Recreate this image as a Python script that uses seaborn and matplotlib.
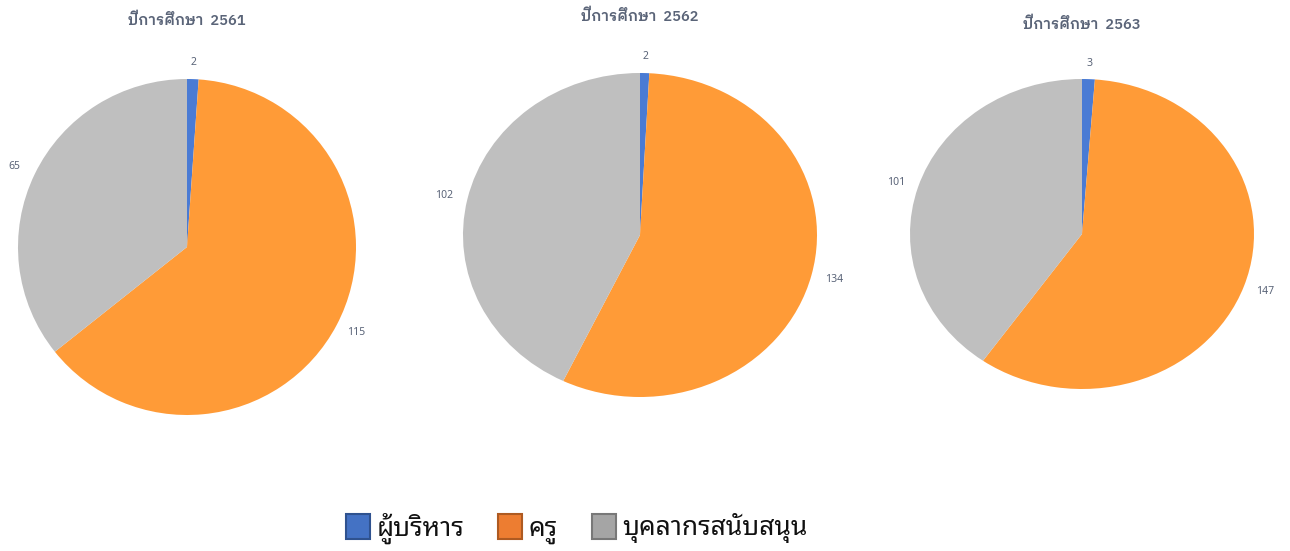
import matplotlib
matplotlib.use("Agg")
import matplotlib.pyplot as plt
from matplotlib.patches import Patch
import seaborn as sns

years = ["2561", "2562", "2563"]
categories = ["ผู้บริหาร", "ครู", "บุคลากรสนับสนุน"]
exec_vals = [2, 2, 3]
teacher_vals = [115, 134, 147]
support_vals = [65, 102, 101]

sns.set_theme(style="white")
plt.rcParams["font.family"] = ["Noto Sans Thai Looped", "Noto Sans", "DejaVu Sans"]

pie_colors = ["#4A7BD4", "#FF9B37", "#BFBFBF"]
legend_face = ["#4472C4", "#ED7D31", "#A5A5A5"]
legend_edge = ["#2F528F", "#AE5A21", "#787878"]
title_color = "#5A6478"

fig = plt.figure(figsize=(12.9, 5.51), dpi=100)
W, H = 1290, 551
# center x, center y (from top), rx, ry, title y
geo = [(187, 247, 169, 168, 20), (640, 235, 177, 162, 16), (1082, 234, 172, 155, 24)]

for i, (cx, cy, rx, ry, ty) in enumerate(geo):
    ax = fig.add_axes([(cx - rx) / W, 1 - (cy + ry) / H, 2 * rx / W, 2 * ry / H])
    vals = [exec_vals[i], teacher_vals[i], support_vals[i]]
    wedges, texts = ax.pie(vals, colors=pie_colors, startangle=90, counterclock=False,
                           labels=[str(v) for v in vals], labeldistance=1.1,
                           textprops=dict(color=title_color, fontsize=7.5),
                           wedgeprops=dict(linewidth=0))
    for t in texts:
        t.set_clip_on(False)
        t.set_ha("center")
        t.set_va("center")
        x, y = t.get_position()
        if abs(x) > 0.3:
            t.set_position((x * 1.03, y))
    ax.set_aspect("auto")
    ax.set_xlim(-1, 1)
    ax.set_ylim(-1, 1)
    ax.axis("off")
    fig.text(cx / W, 1 - ty / H, "ปีการศึกษา  " + years[i], ha="center", va="center",
             fontsize=10.5, color=title_color, fontweight="semibold",
             family=["IBM Plex Sans Thai Looped", "Noto Sans Thai Looped", "DejaVu Sans"])

handles = [Patch(facecolor=legend_face[k], edgecolor=legend_edge[k], linewidth=1.5, label=categories[k])
           for k in range(3)]
fig.legend(handles=handles, loc="center", bbox_to_anchor=(577 / W, 1 - 528 / H), ncol=3,
           frameon=False, fontsize=19, handlelength=0.9, handleheight=1.1,
           handletextpad=0.25, columnspacing=1.3, labelcolor="#111111")

fig.savefig("out.png", dpi=100)
